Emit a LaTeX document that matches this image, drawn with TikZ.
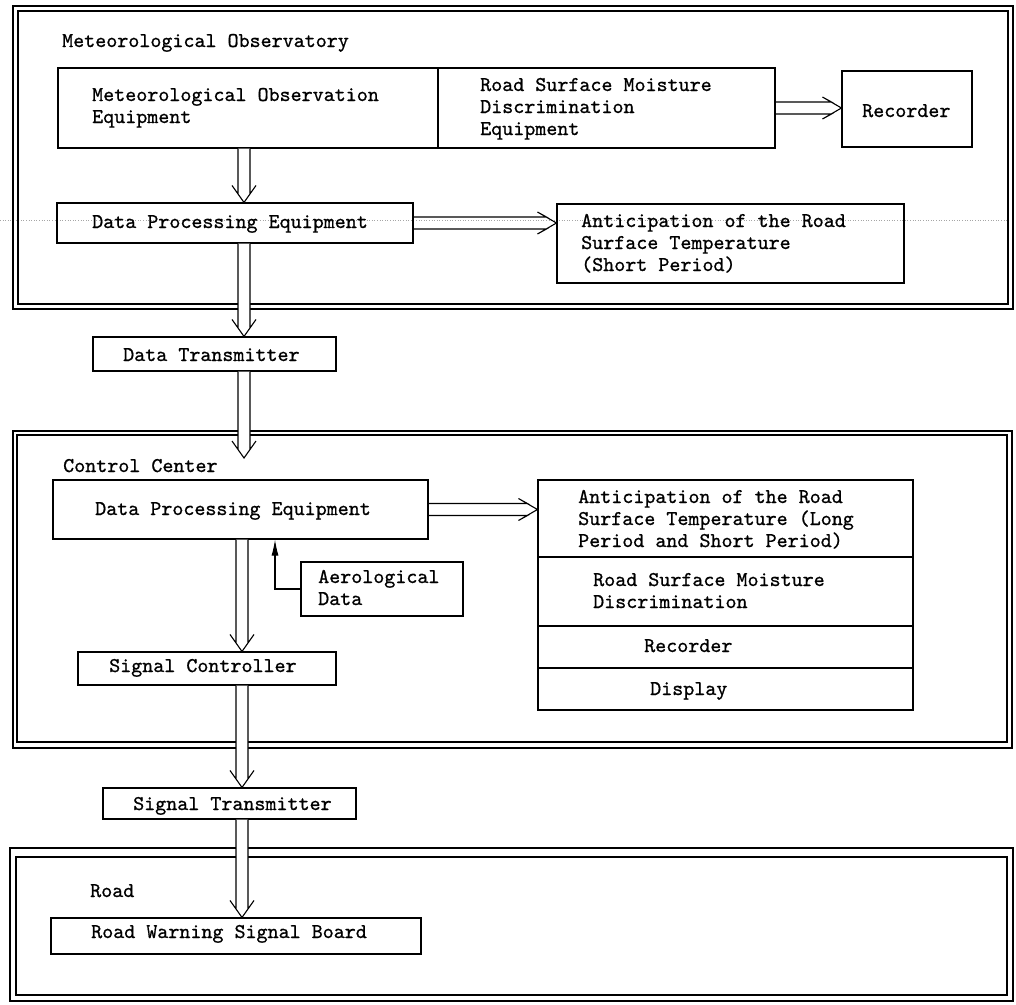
\documentclass[tikz,border=0pt]{standalone}
\usepackage{fontspec}
\newfontfamily\tyfont{lmmono10-regular.otf}[FakeBold=0.8]
\usetikzlibrary{fit,arrows.meta,calc}
\begin{document}
\begin{tikzpicture}[x=1pt,y=-1pt,
  bx/.style={draw, line width=1.1pt, inner sep=0pt},
  frm/.style={draw, line width=1.1pt, inner sep=0pt},
  txt/.style={anchor=base west, inner sep=0pt, font=\tyfont\fontsize{21}{22}\selectfont},
  dblv/.style={line width=1.1pt, fill=white, to path={let \p1=(\tikztostart), \p2=(\tikztotarget) in
    (\x1-6pt,\y1) -- (\x1-6pt,\y2+8.5pt) -- (\x1-12pt,\y2+17pt) -- (\x1,\y2) -- (\x1+12pt,\y2+17pt) -- (\x1+6pt,\y2+8.5pt) -- (\x1+6pt,\y1)}},
  dblh/.style={line width=1.1pt, to path={let \p1=(\tikztostart), \p2=(\tikztotarget) in
    (\x1,\y1+6pt) -- (\x2-10pt,\y1+6pt) -- (\x2-19pt,\y1+11pt) -- (\x2,\y1) -- (\x2-19pt,\y1-11pt) -- (\x2-10pt,\y1-6pt) -- (\x1,\y1-6pt)}},
  thin/.style={line width=1.1pt}
]
\useasboundingbox[fill=white] (0,0) rectangle (1016,1004);

% scan line
\draw[gray!70, dotted, line width=0.6pt] (0,220) -- (1008,220);

% frames (double lines)
\node[frm, fit={(13,6) (1013,309)}] (obs) {};
\node[frm, fit={(18,11) (1008,304)}] (obs-in) {};
\node[frm, fit={(13,431) (1012,748)}] (ctl) {};
\node[frm, fit={(17,435) (1007,742)}] (ctl-in) {};
\node[frm, fit={(10,848) (1013,1001)}] (road) {};
\node[frm, fit={(16,857) (1007,995)}] (road-in) {};

% boxes
\node[bx, fit={(58,68) (775,148)}] (metbox) {};
\coordinate (div1) at (438,0);
\draw[thin] (metbox.north -| div1) -- (metbox.south -| div1);
\node[bx, fit={(842,71) (972,147)}] (recbox) {};
\node[bx, fit={(57,203) (413,243)}] (dpe1) {};
\node[bx, fit={(557,204) (904,283)}] (antS) {};
\node[bx, fit={(93,337) (336,371)}] (dtx) {};
\node[bx, fit={(53,480) (428,539)}] (dpe2) {};
\node[bx, fit={(538,480) (913,710)}] (stack) {};
\coordinate (sd1) at (0,557);
\coordinate (sd2) at (0,626);
\coordinate (sd3) at (0,668);
\draw[thin] (stack.west |- sd1) -- (stack.east |- sd1);
\draw[thin] (stack.west |- sd2) -- (stack.east |- sd2);
\draw[thin] (stack.west |- sd3) -- (stack.east |- sd3);
\node[bx, fit={(301,562) (463,616)}] (aero) {};
\node[bx, fit={(78,652) (336,685)}] (sigc) {};
\node[bx, fit={(103,788) (356,819)}] (sigt) {};
\node[bx, fit={(51,918) (421,954)}] (rwsb) {};

% texts
\node[txt] (t-obs) at (62,47) {Meteorological Observatory};
\node[txt] (t-meo1) at (92,101) {Meteorological Observation};
\node[txt] (t-meo2) at (92,123) {Equipment};
\node[txt] (t-rsm1) at (480,91) {Road Surface Moisture};
\node[txt] (t-rsm2) at (480,113) {Discrimination};
\node[txt] (t-rsm3) at (480,135) {Equipment};
\node[txt] (t-rec) at (862,117) {Recorder};
\node[txt] (t-dpe1) at (92,228) {Data Processing Equipment};
\node[txt] (t-ant1) at (581,227) {Anticipation of the Road};
\node[txt] (t-ant2) at (581,249) {Surface Temperature};
\node[txt] (t-ant3) at (581,271) {(Short Period)};
\node[txt] (t-dtx) at (123,361) {Data Transmitter};
\node[txt] (t-cc) at (63,472) {Control Center};
\node[txt] (t-dpe2) at (95,515) {Data Processing Equipment};
\node[txt] (t-aer1) at (318,583) {Aerological};
\node[txt] (t-aer2) at (318,605) {Data};
\node[txt] (t-st1) at (578,503) {Anticipation of the Road};
\node[txt] (t-st2) at (578,525) {Surface Temperature (Long};
\node[txt] (t-st3) at (578,547) {Period and Short Period)};
\node[txt] (t-sm1) at (593,586) {Road Surface Moisture};
\node[txt] (t-sm2) at (593,608) {Discrimination};
\node[txt] (t-srec) at (644,652) {Recorder};
\node[txt] (t-disp) at (650,695) {Display};
\node[txt] (t-sigc) at (109,672) {Signal Controller};
\node[txt] (t-sigt) at (133,810) {Signal Transmitter};
\node[txt] (t-road) at (90,897) {Road};
\node[txt] (t-rwsb) at (91,938) {Road Warning Signal Board};

% connectors
\coordinate (col) at (244,0);
\coordinate (col2) at (242,0);
\coordinate (ccend) at (244,458);
\coordinate (ax) at (275,0);
\draw[dblv] (metbox.south -| col) to (dpe1.north -| col);
\draw[dblv] (dpe1.south -| col) to (dtx.north -| col);
\draw[dblv] (dtx.south -| col) to (ccend);
\draw[dblv] (dpe2.south -| col2) to (sigc.north -| col2);
\draw[dblv] (sigc.south -| col2) to (sigt.north -| col2);
\draw[dblv] (sigt.south -| col2) to (rwsb.north -| col2);
\draw[dblh] (metbox.east) to (recbox.west);
\draw[dblh] (dpe1.east) to (antS.west);
\draw[dblh] (dpe2.east) to (stack.west);
\draw[line width=1.1pt, -{Latex[length=16pt,width=7pt]}] (aero.west) -| (dpe2.south -| ax);
\end{tikzpicture}
\end{document}
